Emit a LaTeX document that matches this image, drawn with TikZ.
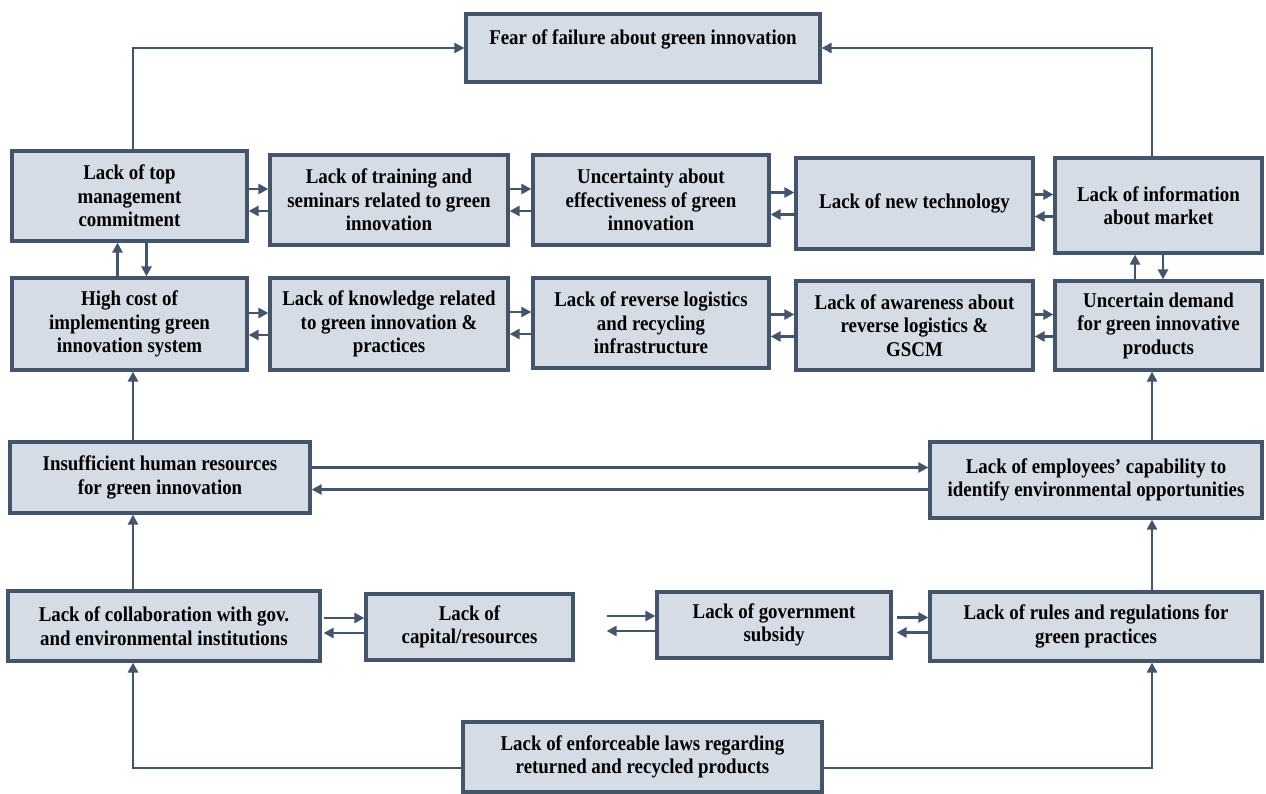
\documentclass[tikz,border=0pt]{standalone}
\usepackage{fontspec}
\setmainfont{Liberation Serif}[FakeStretch=0.9]
\usetikzlibrary{arrows.meta}
\definecolor{slate}{HTML}{44546A}
\definecolor{paleblue}{HTML}{D6DCE5}

\begin{document}
\begin{tikzpicture}[x=1pt, y=-1pt,
  barrier/.style={draw=slate, fill=paleblue, line width=3.2pt, align=center, inner sep=2pt,
    font=\bfseries\fontsize{21}{23.5}\selectfont},
  link/.style={draw=slate, line width=2.6pt, -{Triangle[length=10pt,width=10pt]}}]
  \useasboundingbox (0,0) rectangle (1266,794);

  % top
  \node[barrier, minimum width=354pt, minimum height=68pt, text height=28pt, text depth=34pt] (fear) at (643,48) {Fear of failure about green innovation};

  % first row
  \node[barrier, minimum width=235pt, minimum height=90pt] (mgmt) at (129.5,196) {Lack of top\\management\\commitment};
  \node[barrier, minimum width=238pt, minimum height=90pt] (train) at (389,200) {Lack of training and\\seminars related to green\\innovation};
  \node[barrier, minimum width=236pt, minimum height=90pt] (uncert) at (651,200) {Uncertainty about\\effectiveness of green\\innovation};
  \node[barrier, minimum width=237pt, minimum height=91pt] (tech) at (914.5,203.5) {Lack of new technology};
  \node[barrier, minimum width=207pt, minimum height=95pt] (info) at (1158.5,205.5) {Lack of information\\about market};

  % second row
  \node[barrier, minimum width=235pt, minimum height=92pt] (cost) at (129.5,324) {High cost of\\implementing green\\innovation system};
  \node[barrier, minimum width=238pt, minimum height=92pt] (know) at (389,324) {Lack of knowledge related\\to green innovation \&\\practices};
  \node[barrier, minimum width=236pt, minimum height=90pt] (revlog) at (651,323) {Lack of reverse logistics\\and recycling\\infrastructure};
  \node[barrier, minimum width=237pt, minimum height=89pt] (aware) at (914.5,325.5) {Lack of awareness about\\reverse logistics \&\\GSCM};
  \node[barrier, minimum width=207pt, minimum height=89pt] (demand) at (1158.5,325.5) {Uncertain demand\\for green innovative\\products};

  % third row
  \node[barrier, minimum width=300pt, minimum height=71pt] (hr) at (160,477.5) {Insufficient human resources\\for green innovation};
  \node[barrier, minimum width=332pt, minimum height=76pt] (emp) at (1096,480) {Lack of employees’ capability to\\identify environmental opportunities};

  % fourth row
  \node[barrier, minimum width=312pt, minimum height=70pt] (collab) at (164,626) {Lack of collaboration with gov.\\and environmental institutions};
  \node[barrier, minimum width=207pt, minimum height=66pt] (capital) at (469.5,627) {Lack of\\capital/resources};
  \node[barrier, minimum width=234pt, minimum height=66pt] (subsidy) at (774,625) {Lack of government\\subsidy};
  \node[barrier, minimum width=332pt, minimum height=69pt] (rules) at (1096,626.5) {Lack of rules and regulations for\\green practices};

  % bottom
  \node[barrier, minimum width=359pt, minimum height=70pt] (laws) at (642.5,757) {Lack of enforceable laws regarding\\returned and recycled products};

  \coordinate (lx) at (133,0);
  \coordinate (rx) at (1152,0);

  % into fear of failure
  \draw[link] (mgmt.north -| lx) |- (fear.west);
  \draw[link] (info.north -| rx) |- (fear.east);

  % two-way links along the upper rows
  \foreach \a/\b in {mgmt/train, train/uncert, uncert/tech, tech/info, cost/know, know/revlog, revlog/aware, aware/demand} {
    \path ([yshift=11pt]\b.west) coordinate (hi) ([yshift=-11pt]\b.west) coordinate (lo);
    \draw[link] (hi -| \a.east) -- (hi);
    \draw[link] (lo) -- (lo -| \a.east);
  }

  % vertical pairs
  \path ([xshift=-12pt]cost.north) coordinate (up1) ([xshift=17pt]cost.north) coordinate (dn1);
  \draw[link] (up1) -- (up1 |- mgmt.south);
  \draw[link] (dn1 |- mgmt.south) -- (dn1);
  \path ([xshift=-23.5pt]demand.north) coordinate (up2) ([xshift=4.5pt]demand.north) coordinate (dn2);
  \draw[link] (up2) -- (up2 |- info.south);
  \draw[link] (dn2 |- info.south) -- (dn2);

  \draw[link] (hr.north -| lx) -- (cost.south -| lx);
  \draw[link] (emp.north -| rx) -- (demand.south -| rx);

  \path ([yshift=10pt]hr.east) coordinate (hi) ([yshift=-12pt]hr.east) coordinate (lo);
  \draw[link] (hi) -- (hi -| emp.west);
  \draw[link] (lo -| emp.west) -- (lo);

  \draw[link] (collab.north -| lx) -- (hr.south -| lx);
  \draw[link] (rules.north -| rx) -- (emp.south -| rx);

  % two-way links along the lowest row
  \foreach \a/\b/\g in {collab/capital/2, capital/subsidy/32, subsidy/rules/4} {
    \path ([yshift=9pt]\b.west) coordinate (hi) ([yshift=-6pt]\b.west) coordinate (lo);
    \draw[link, shorten <=\g pt] (hi -| \a.east) -- (hi);
    \draw[link, shorten >=\g pt] (lo) -- (lo -| \a.east);
  }

  % from enforceable laws
  \path ([yshift=-11pt]laws.west) coordinate (lw) ([yshift=-11pt]laws.east) coordinate (le);
  \draw[link] (lw) -| (collab.south -| lx);
  \draw[link] (le) -| (rules.south -| rx);
\end{tikzpicture}
\end{document}
